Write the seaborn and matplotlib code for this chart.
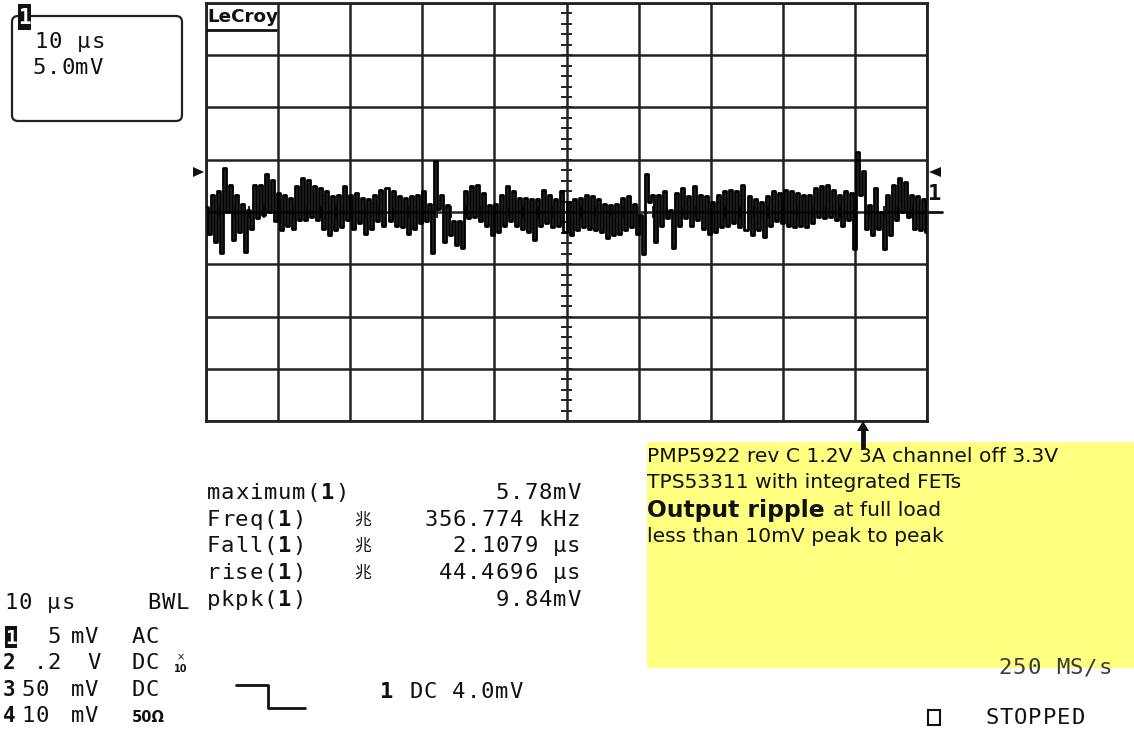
import numpy as np
import pandas as pd
import matplotlib
matplotlib.use("Agg")
import matplotlib.pyplot as plt
import seaborn as sns
from matplotlib.patches import Rectangle, FancyBboxPatch, Polygon
from matplotlib.lines import Line2D
from matplotlib.transforms import Affine2D

# ---- captured trace: channel 1, AC coupled, 5 mV/div, 10 us/div ----
# successive high / low excursions of the ripple (mV)
ripple_hi = [
    0.5, 1.6, 2.0, 4.2, 2.6, 1.6, 0.8, 0.2, 2.6, 2.6, 3.6, 3.1, 1.8, 1.6, 1.3, 2.5, 3.3, 3.1, 2.5, 2.3,
    2.0, 1.5, 1.6, 2.5, 1.6, 1.8, 1.3, 1.2, 1.6, 2.1, 2.3, 2.0, 1.5, 1.3, 1.5, 1.6, 2.0, 0.8, 4.9, 1.6,
    0.7, -0.9, -0.9, 2.0, 2.5, 2.6, 1.8, 0.7, 0.8, 1.6, 2.5, 2.0, 1.3, 1.3, 1.2, 1.2, 2.1, 1.6, 1.2, 2.0,
    1.0, 1.2, 1.3, 1.6, 1.5, 1.2, 0.8, 0.7, 0.8, 1.3, 1.5, 0.8, -0.3, 3.6, 1.6, 1.6, 2.0, 0.2, 1.8, 2.3,
    1.5, 2.5, 1.6, 1.5, 1.0, 1.6, 2.0, 2.1, 2.0, 2.6, 1.5, 1.2, 1.0, 1.5, 2.0, 1.8, 2.1, 2.0, 1.8, 1.6,
    1.6, 2.3, 2.5, 2.6, 2.1, 1.6, 2.0, 1.8, 5.78, 3.9, 0.7, 2.3, 0.0, 1.6, 2.6, 3.3, 2.9, 1.6, 1.5, 1.2,
]
ripple_lo = [
    -2.1, -2.9, -3.9, 0.0, -2.7, -1.9, -3.8, -1.6, -0.6, -0.3, 0.0, -0.9, -1.7, -1.3, -1.6, -0.8, -0.8, -0.5, -0.8, -1.6,
    -2.2, -1.7, -1.4, -0.8, -1.6, -1.1, -2.1, -1.6, -0.9, -1.3, -0.9, -1.3, -1.4, -2.1, -1.6, -1.1, -0.9, -3.9, 0.3, -2.9,
    -2.2, -3.2, -3.4, -0.6, -0.5, -0.9, -1.3, -2.2, -1.9, -1.3, -0.9, -1.3, -1.6, -1.9, -2.7, -1.3, -1.1, -1.4, -1.3, -1.9,
    -2.2, -1.7, -1.4, -1.6, -1.7, -1.9, -2.5, -2.2, -2.1, -1.7, -1.4, -2.1, -4.06, 1.0, -2.9, -1.3, -0.6, -3.4, -1.3, -0.6,
    -1.3, -0.8, -1.6, -2.1, -1.9, -1.4, -1.3, -1.1, -1.4, -1.7, -2.2, -1.7, -2.4, -1.3, -0.9, -1.1, -1.3, -1.4, -1.3, -1.4,
    -1.1, -0.5, -0.6, -0.5, -0.8, -1.3, -0.8, -3.5, 1.6, -1.6, -2.2, -1.6, -3.5, -2.2, -0.8, 0.0, -0.5, -1.6, -1.7, -1.9,
]

time_per_div_us = 10
volts_per_div_mv = 5

# measurement panel
meas_names = ["maximum(1)", "Freq(1)", "Fall(1)", "rise(1)", "pkpk(1)"]
meas_stats = ["", "兆", "兆", "兆", ""]
meas_values = ["5.78mV", "356.774 kHz", "2.1079 µs", "44.4696 µs", "9.84mV"]

# channel setup rows
ch_ids = ["1", "2", "3", "4"]
ch_scale = ["5", ".2", "50", "10"]
ch_units = ["mV", "V", "mV", "mV"]
ch_coupling = ["AC", "DC", "DC", "50Ω"]

note_lines = [
    "PMP5922 rev C 1.2V 3A channel off 3.3V",
    "TPS53311 with integrated FETs",
]
note_bold = "Output ripple"
note_rest = "at full load"
note_last = "less than 10mV peak to peak"

# ---- figure ----
sns.set_style("white")
plt.rcParams["font.family"] = ["DejaVu Sans"]

W, H = 1134, 731
fig = plt.figure(figsize=(W / 100, H / 100), dpi=100)
fig.patch.set_facecolor("white")
# pixel coordinates measured from the top-left corner
T = Affine2D().scale(1 / 100, -1 / 100).translate(0, H / 100) + fig.dpi_scale_trans

INK = "#111111"
MONO = "DejaVu Sans Mono"
CW = 14.3
MSIZE = 16


def mono(x, y, s, size=MSIZE, bold=(), color=INK, cw=CW):
    for i, ch in enumerate(s):
        if ch == " ":
            continue
        fig.text(x + i * cw + cw / 2, y, ch, transform=T, ha="center", va="center",
                 family=MONO, fontsize=size, color=color,
                 weight="bold" if i in bold else "normal")


def inverse_one(x0, y0, w, h, size=13):
    fig.add_artist(Rectangle((x0, y0), w, h, transform=T, fc=INK, ec="none", zorder=5))
    fig.text(x0 + w / 2, y0 + h / 2 + 1, "1", transform=T, ha="center", va="center",
             family=MONO, fontsize=size, weight="bold", color="white", zorder=6)


# ---- graticule + trace ----
ax = fig.add_axes([206 / W, 1 - 421 / H, 721 / W, 418 / H])
n_div_x, n_div_y = 10, 8
x_span = n_div_x * time_per_div_us
y_half = n_div_y * volts_per_div_mv / 2
ax.set_xlim(0, x_span)
ax.set_ylim(-y_half, y_half)
ax.set_xticks(np.arange(0, x_span + 0.1, time_per_div_us))
ax.set_yticks(np.arange(-y_half, y_half + 0.1, volts_per_div_mv))
ax.tick_params(length=0, labelbottom=False, labelleft=False)
ax.grid(True, color="#222222", lw=1.8)
ax.set_axisbelow(True)
for sp in ax.spines.values():
    sp.set_color("#222222")
    sp.set_linewidth(2)

# minor ticks on the centre cross-hair
ax.hlines(np.arange(-y_half, y_half + 0.01, volts_per_div_mv / 5), x_span / 2 - 0.8, x_span / 2 + 0.8,
          color="#222222", lw=1.4, zorder=1)
ax.vlines(np.arange(0, x_span + 0.01, time_per_div_us / 5), -0.6, 0.6, color="#222222", lw=1.4, zorder=1)

values = np.empty(2 * len(ripple_hi))
values[0::2] = ripple_hi
values[1::2] = ripple_lo
t = np.linspace(0, x_span, len(values))
df = pd.DataFrame({"t_us": t, "v_mv": values})
sns.lineplot(data=df, x="t_us", y="v_mv", ax=ax, color="black", lw=2.0,
             estimator=None, sort=False, drawstyle="steps-mid", zorder=3)
ax.set_xlabel("")
ax.set_ylabel("")

# ---- screen annotations ----
# LeCroy logo
fig.text(207, 17, "LeCroy", transform=T, ha="left", va="center", fontsize=13.2,
         weight="bold", color=INK)
fig.add_artist(Line2D([207, 276], [30, 30], transform=T, color=INK, lw=2))

# trace-1 markers on both sides of the grid
fig.add_artist(Polygon([(193, 167), (204, 172), (193, 177)], transform=T, fc=INK, ec="none"))
fig.add_artist(Polygon([(941, 167), (929, 172), (941, 177)], transform=T, fc=INK, ec="none"))
fig.text(935, 194, "1", transform=T, ha="center", va="center", family=MONO, fontsize=16,
         weight="bold", color=INK)
fig.add_artist(Line2D([928, 942], [212, 212], transform=T, color=INK, lw=2))

# trigger position arrow
fig.add_artist(Polygon([(857, 431), (863, 421), (869, 431)], transform=T, fc=INK, ec="none", zorder=8))
fig.add_artist(Line2D([863, 863], [428, 447], transform=T, color=INK, lw=3.5, zorder=8))

# channel-1 box top-left
fig.add_artist(FancyBboxPatch((12, 16), 170, 105, boxstyle="round,pad=0,rounding_size=6",
                              transform=T, fc="none", ec="#222222", lw=1.6))
inverse_one(18, 4, 13, 26, size=15)
mono(34, 42, "10 µs")
mono(32, 68, "5.0mV")

# measurement panel
row_y = [493, 520, 546, 573, 600]
for y, name, stat, val in zip(row_y, meas_names, meas_stats, meas_values):
    mono(206, y, name, bold=(name.index("1"),))
    if stat:
        fig.text(363, y, stat, transform=T, ha="center", va="center",
                 family="Noto Sans CJK JP", fontsize=12, color=INK)
    mono(581 - len(val) * CW, y, val)

# timebase / bandwidth limit
mono(4, 603, "10 µs")
mono(147, 603, "BWL")

# channel setup rows
ch_y = [637, 663, 690, 716]
scale_x = [47, 33, 21, 21]
for k, (cid, sc, un, cp, y) in enumerate(zip(ch_ids, ch_scale, ch_units, ch_coupling, ch_y)):
    if k == 0:
        inverse_one(5, y - 11, 12, 22, size=14)
    else:
        fig.text(9, y, cid, transform=T, ha="center", va="center", family=MONO,
                 fontsize=15, weight="bold", color=INK)
    mono(scale_x[k], y, sc)
    mono(70 if un == "mV" else 87, y, un)
    if cp == "50Ω":
        fig.text(132, y + 1, cp, transform=T, ha="left", va="center",
                 fontsize=10.5, weight="bold", color=INK)
    else:
        mono(131, y, cp)
# x10 probe marker on channel 2
fig.text(181, 657, "×", transform=T, ha="center", va="center", fontsize=7, color=INK)
fig.text(181, 669, "10", transform=T, ha="center", va="center", fontsize=7, weight="bold", color=INK)

# trigger symbol and level
fig.add_artist(Line2D([236, 268, 268, 305], [685, 685, 708, 708], transform=T, color=INK, lw=2))
mono(380, 692, "1 DC 4.0mV", bold=(0,))

# note box
fig.add_artist(Rectangle((647, 442), W - 647, 226, transform=T, fc="#ffff80", ec="none", zorder=2))
fig.text(647, 456, note_lines[0], transform=T, ha="left", va="center", fontsize=14.6, color=INK, zorder=4)
fig.text(647, 482, note_lines[1], transform=T, ha="left", va="center", fontsize=14.6, color=INK, zorder=4)
fig.text(647, 510, note_bold, transform=T, ha="left", va="center", fontsize=16.8, weight="bold",
         color=INK, zorder=4)
fig.text(833, 511, note_rest, transform=T, ha="left", va="center", fontsize=14.6, color=INK, zorder=4)
fig.text(647, 537, note_last, transform=T, ha="left", va="center", fontsize=14.6, color=INK, zorder=4)

# acquisition status
mono(998, 668, "250 MS/s", color="#3a3a3a")
fig.add_artist(Rectangle((928, 710), 12, 15, transform=T, fc="none", ec=INK, lw=1.5))
mono(985, 718, "STOPPED")

fig.savefig("out.png", dpi=100, facecolor="white")
